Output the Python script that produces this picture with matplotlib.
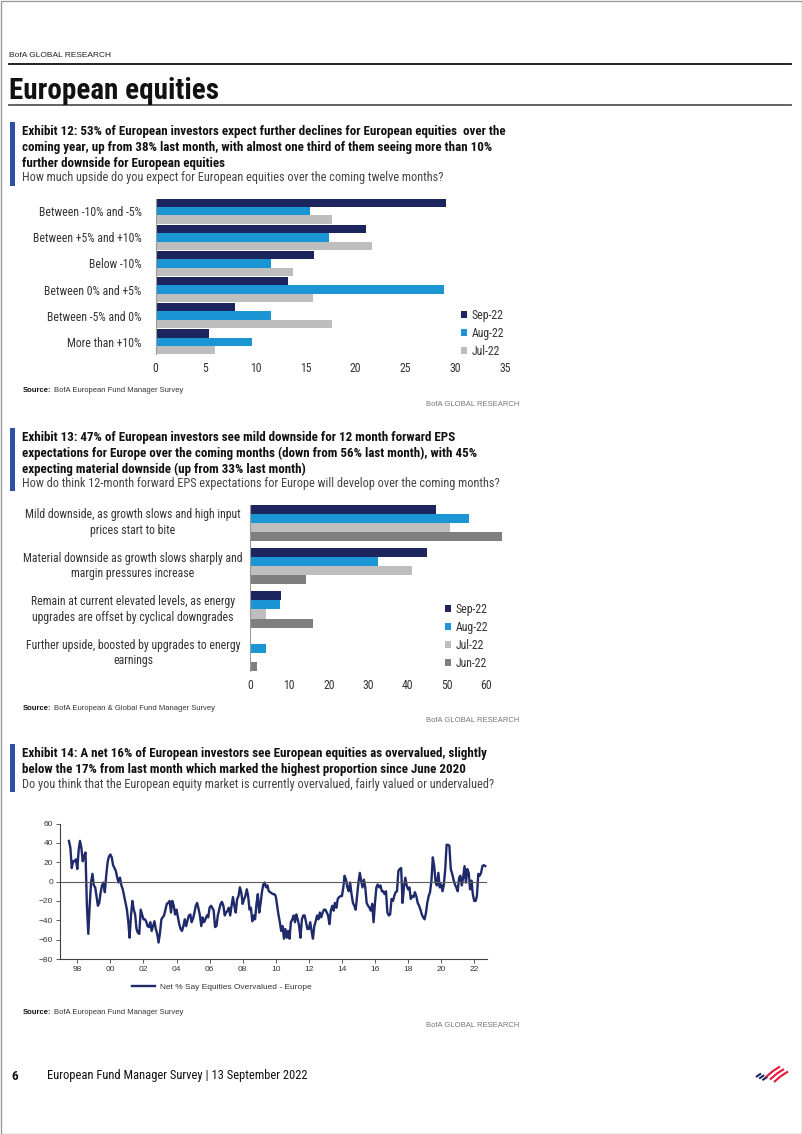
import numpy as np
import pandas as pd
import matplotlib
matplotlib.use('Agg')
import matplotlib.pyplot as plt
import matplotlib.dates as mdates
import matplotlib.transforms as mtransforms
from matplotlib import font_manager
from matplotlib.patches import Rectangle
from matplotlib.lines import Line2D

W, H = 802, 1134

# Exhibit 12 data
ex12_cats = ['Between -10% and -5%', 'Between +5% and +10%', 'Below -10%',
             'Between 0% and +5%', 'Between -5% and 0%', 'More than +10%']
ex12_sep = [29.0, 21.0, 15.8, 13.2, 7.9, 5.3]
ex12_aug = [15.4, 17.3, 11.5, 28.8, 11.5, 9.6]
ex12_jul = [17.6, 21.6, 13.7, 15.7, 17.6, 5.9]

# Exhibit 13 data
ex13_cats = ['Mild downside, as growth slows and high input\nprices start to bite',
             'Material downside as growth slows sharply and\nmargin pressures increase',
             'Remain at current elevated levels, as energy\nupgrades are offset by cyclical downgrades',
             'Further upside, boosted by upgrades to energy\nearnings']
ex13_sep = [47.3, 45.0, 7.9, 0.0]
ex13_aug = [55.5, 32.6, 7.7, 4.0]
ex13_jul = [50.7, 41.2, 4.0, 0.0]
ex13_jun = [63.9, 14.3, 16.0, 1.8]

# Exhibit 14 data: net % say equities overvalued, monthly from Jul 1997
net_1997_2003 = [42, 35, 14, 21, 21, 23, 13, 33, 42, 35, 21, 26, 30, -25, -54, -25, -1, 8, -4, -6,
                 -15, -25, -22, -11, -4, -1, -11, 6, 20, 26, 28, 25, 17, 14, 11, 4, -1, 4, -4, -8,
                 -15, -22, -29, -42, -58, -35, -20, -29, -34, -49, -53, -54, -29, -34, -39, -39, -41, -46, -47, -42,
                 -51, -46, -41, -49, -54, -63, -53, -39, -37, -35, -29, -23]
net_2003_2009 = [-22, -20, -32, -20, -25, -34, -29, -37, -44, -49, -51, -46, -39, -46, -40, -35, -34, -42, -38, -32,
                 -25, -22, -28, -35, -46, -37, -42, -39, -35, -37, -27, -25, -27, -30, -47, -46, -35, -29, -23, -21,
                 -25, -35, -32, -30, -27, -35, -25, -16, -25, -32, -18, -15, -6, -11, -23, -18, -15, -8, -15, -29,
                 -27, -41, -35, -39, -23, -13, -32, -22, -11, -3, -1, -6, -4, -10, -11, -12, -13]
net_2009_2015 = [-13, -15, -25, -34, -42, -51, -46, -59, -49, -58, -51, -59, -42, -39, -35, -42, -34, -39, -46, -58,
                 -39, -35, -35, -42, -49, -49, -42, -51, -59, -46, -41, -35, -39, -32, -37, -32, -29, -29, -32, -35,
                 -44, -30, -25, -30, -22, -27, -18, -16, -15, -15, -6, 6, 2, -6, -10, -1, -13, -22, -25, -29,
                 -15, -1, 9, 1, -6, 2, -6, -22, -25, -27, -30, -23, -42]
net_2016_2022 = [-22, -6, -3, -6, -4, -10, -10, -13, -10, -32, -35, -34, -18, -20, -15, -11, -10, 11, 13, 14,
                 -22, -6, 4, -4, -8, -6, -18, -15, -16, -11, -15, -22, -25, -29, -34, -37, -39, -32, -22, -15,
                 -11, 1, 25, 16, -1, -4, 9, -6, -3, -10, -3, 13, 38, 38, 37, 13, 8, 2, -3, -6,
                 -10, 4, 6, -4, 4, 16, -1, 13, 9, -8, 1, -13, -20, -20, -15, 8, 6, 9, 16, 17, 16]
net_values = net_1997_2003 + net_2003_2009 + net_2009_2015 + net_2016_2022
net_dates = pd.date_range('1997-07-01', periods=len(net_values), freq='MS')

SEP, AUG, JUL, JUN = '#1d255f', '#1b95d3', '#bebebe', '#7f7f7f'
NAVY_LINE = '#1f2a6b'
BLUE_BAR = '#2c50a6'
TXT = '#333333'

_names = {f.name for f in font_manager.fontManager.ttflist}


def pick(*cands):
    for c in cands:
        if c in _names:
            return c
    return 'DejaVu Sans'


NARROW = pick('Liberation Sans Narrow', 'Roboto Condensed', 'Open Sans Condensed', 'Liberation Sans')
SANS = pick('Liberation Sans', 'Open Sans', 'DejaVu Sans')
plt.rcParams['font.family'] = [NARROW, 'DejaVu Sans']

fig = plt.figure(figsize=(W / 100, H / 100), dpi=100)


def rect(x0, y0, x1, y1):
    return [x0 / W, 1 - y1 / H, (x1 - x0) / W, (y1 - y0) / H]


def txt(x, y, s, **kw):
    kw.setdefault('va', 'center')
    fig.text(x / W, 1 - y / H, s, **kw)


def hline(x0, x1, y, **kw):
    fig.add_artist(Line2D([x0 / W, x1 / W], [1 - y / H, 1 - y / H], transform=fig.transFigure, **kw))


def blue_mark(y0, y1):
    fig.add_artist(Rectangle((10 / W, 1 - y1 / H), 5 / W, (y1 - y0) / H,
                             transform=fig.transFigure, color=BLUE_BAR, lw=0))


# page frame
fig.add_artist(Rectangle((0.5 / W, 0.5 / H), (W - 1) / W, (H - 1) / H, transform=fig.transFigure,
                         fill=False, ec='#9a9a9a', lw=1))

# header
txt(9, 55.5, 'BofA GLOBAL RESEARCH', fontsize=6, family=SANS, color='#222222')
hline(9, 791, 64, color='#111111', lw=1.3)
txt(9, 91, 'European equities', fontsize=21, fontweight='bold', color='#111111')
hline(9, 791, 104.5, color='#555555', lw=1.3)

TITLE_FS = 9.4
SUB_FS = 8.8

# ---------- Exhibit 12 ----------
blue_mark(122, 186)
for yy, line in zip([131.5, 147.5, 163.5],
                    ['Exhibit 12: 53% of European investors expect further declines for European equities  over the',
                     'coming year, up from 38% last month, with almost one third of them seeing more than 10%',
                     'further downside for European equities']):
    txt(22, yy, line, fontsize=TITLE_FS, fontweight='bold', color='#111111')
txt(22, 178, 'How much upside do you expect for European equities over the coming twelve months?',
    fontsize=SUB_FS, color='#444444')


def bars(ax, series, labels, colors, span):
    n = len(series)
    h = span / n
    y = np.arange(len(series[0]))
    for k, (vals, lab, col) in enumerate(zip(series, labels, colors)):
        ax.barh(y - span / 2 + h * (k + 0.5), vals, height=h, color=col, label=lab, lw=0)
    ax.set_ylim(len(y) - 1 + span / 2, -span / 2)
    for s in ['top', 'right', 'bottom']:
        ax.spines[s].set_visible(False)
    ax.spines['left'].set_color('#9a9a9a')
    ax.spines['left'].set_linewidth(0.8)
    ax.tick_params(axis='x', length=0, pad=6, labelsize=8.5, labelcolor=TXT)
    ax.tick_params(axis='y', length=0)
    return y


ax1 = fig.add_axes(rect(155.5, 199, 505.5, 354))
y1 = bars(ax1, [ex12_sep, ex12_aug, ex12_jul], ['Sep-22', 'Aug-22', 'Jul-22'], [SEP, AUG, JUL], 0.95)
ax1.set_xlim(0, 35)
ax1.set_xticks(range(0, 36, 5))
ax1.set_yticks(y1)
ax1.set_yticklabels(ex12_cats, fontsize=8.5, color=TXT)
ax1.tick_params(axis='y', pad=10)
ax1.legend(loc='upper left', bbox_to_anchor=(461 / W, 1 - 309 / H), bbox_transform=fig.transFigure,
           frameon=False, fontsize=8.5, handlelength=0.55, handleheight=0.55, handletextpad=0.35,
           labelspacing=0.42, borderpad=0, borderaxespad=0, labelcolor=TXT)

txt(23, 391, 'Source:', fontsize=5.5, fontweight='bold', family=SANS, color='#111111')
txt(54, 391, 'BofA European Fund Manager Survey', fontsize=5.5, family=SANS, color=TXT)
txt(519, 404.5, 'BofA GLOBAL RESEARCH', fontsize=5.5, family=SANS, color='#777777', ha='right')

# ---------- Exhibit 13 ----------
blue_mark(428, 491)
for yy, line in zip([437.5, 453.5, 469],
                    ['Exhibit 13: 47% of European investors see mild downside for 12 month forward EPS',
                     'expectations for Europe over the coming months (down from 56% last month), with 45%',
                     'expecting material downside (up from 33% last month)']):
    txt(22, yy, line, fontsize=TITLE_FS, fontweight='bold', color='#111111')
txt(22, 484, 'How do think 12-month forward EPS expectations for Europe will develop over the coming months?',
    fontsize=SUB_FS, color='#444444')

ax2 = fig.add_axes(rect(250, 504.5, 502, 671))
y2 = bars(ax2, [ex13_sep, ex13_aug, ex13_jul, ex13_jun], ['Sep-22', 'Aug-22', 'Jul-22', 'Jun-22'],
          [SEP, AUG, JUL, JUN], 0.84)
ax2.set_xlim(0, 64)
ax2.set_xticks(range(0, 61, 10))
ax2.set_yticks([])
lab_tr = mtransforms.blended_transform_factory(fig.transFigure, ax2.transData)
for yy, cat in zip(y2, ex13_cats):
    ax2.text(133 / W, yy, cat, transform=lab_tr, ha='center', va='center', multialignment='center',
             fontsize=8.5, color=TXT, linespacing=1.25)
ax2.legend(loc='upper left', bbox_to_anchor=(445 / W, 1 - 603 / H), bbox_transform=fig.transFigure,
           frameon=False, fontsize=8.5, handlelength=0.55, handleheight=0.55, handletextpad=0.35,
           labelspacing=0.42, borderpad=0, borderaxespad=0, labelcolor=TXT)

txt(23, 708, 'Source:', fontsize=5.5, fontweight='bold', family=SANS, color='#111111')
txt(54, 708, 'BofA European & Global Fund Manager Survey', fontsize=5.5, family=SANS, color=TXT)
txt(519, 721, 'BofA GLOBAL RESEARCH', fontsize=5.5, family=SANS, color='#777777', ha='right')

# ---------- Exhibit 14 ----------
blue_mark(744, 792)
for yy, line in zip([754, 770],
                    ['Exhibit 14: A net 16% of European investors see European equities as overvalued, slightly',
                     'below the 17% from last month which marked the highest proportion since June 2020']):
    txt(22, yy, line, fontsize=TITLE_FS, fontweight='bold', color='#111111')
txt(22, 784.5, 'Do you think that the European equity market is currently overvalued, fairly valued or undervalued?',
    fontsize=SUB_FS, color='#444444')

ax3 = fig.add_axes(rect(60, 823.5, 487, 959))
ax3.plot(net_dates, net_values, color=NAVY_LINE, lw=1.7, label='Net % Say Equities Overvalued - Europe')
ax3.axhline(0, color='#5a5a5a', lw=0.8)
ax3.set_ylim(-80, 60)
ax3.set_yticks(range(-80, 61, 20))
ax3.set_xlim(pd.Timestamp('1996-12-15'), pd.Timestamp('2022-10-10'))
ax3.xaxis.set_major_locator(mdates.YearLocator(2))
ax3.xaxis.set_major_formatter(mdates.DateFormatter('%y'))
for s in ['top', 'right']:
    ax3.spines[s].set_visible(False)
for s in ['left', 'bottom']:
    ax3.spines[s].set_color('#404040')
    ax3.spines[s].set_linewidth(0.8)
ax3.tick_params(labelsize=6, length=3, width=0.6, color='#404040', labelcolor=TXT, pad=2)
for lab in ax3.get_xticklabels() + ax3.get_yticklabels():
    lab.set_family(SANS)
leg3 = ax3.legend(loc='center left', bbox_to_anchor=(132 / W, 1 - 987 / H), bbox_transform=fig.transFigure,
                  frameon=False, fontsize=6, handlelength=2.7, handletextpad=0.6, borderpad=0,
                  borderaxespad=0, labelcolor=TXT)
for t in leg3.get_texts():
    t.set_family(SANS)

txt(23, 1012.5, 'Source:', fontsize=5.5, fontweight='bold', family=SANS, color='#111111')
txt(54, 1012.5, 'BofA European Fund Manager Survey', fontsize=5.5, family=SANS, color=TXT)
txt(519, 1025.5, 'BofA GLOBAL RESEARCH', fontsize=5.5, family=SANS, color='#777777', ha='right')

# ---------- footer ----------
txt(11, 1076, '6', fontsize=9.5, fontweight='bold', color='#111111')
txt(47, 1076, 'European Fund Manager Survey | 13 September 2022', fontsize=9, color='#111111')

# small flag logo: short navy stripes on the left, longer red stripes on the right
logo = fig.add_axes(rect(752, 1060, 794, 1092))
logo.set_xlim(752, 794)
logo.set_ylim(1092, 1060)
logo.axis('off')
for k in range(3):
    x0 = 756 + 3.2 * k
    logo.plot([x0, x0 + 5], [1077 + 1.6 * k, 1073.5 + 1.6 * k], color='#1d255f', lw=1.5,
              solid_capstyle='butt')
for k in range(3):
    x0 = 766 + 4 * k
    logo.plot([x0, x0 + 7, x0 + 14], [1077 + 2.5 * k, 1071 + 2.5 * k, 1066.5 + 2.5 * k],
              color='#e31837', lw=1.5, solid_capstyle='butt')

fig.savefig('out.png', dpi=100)
